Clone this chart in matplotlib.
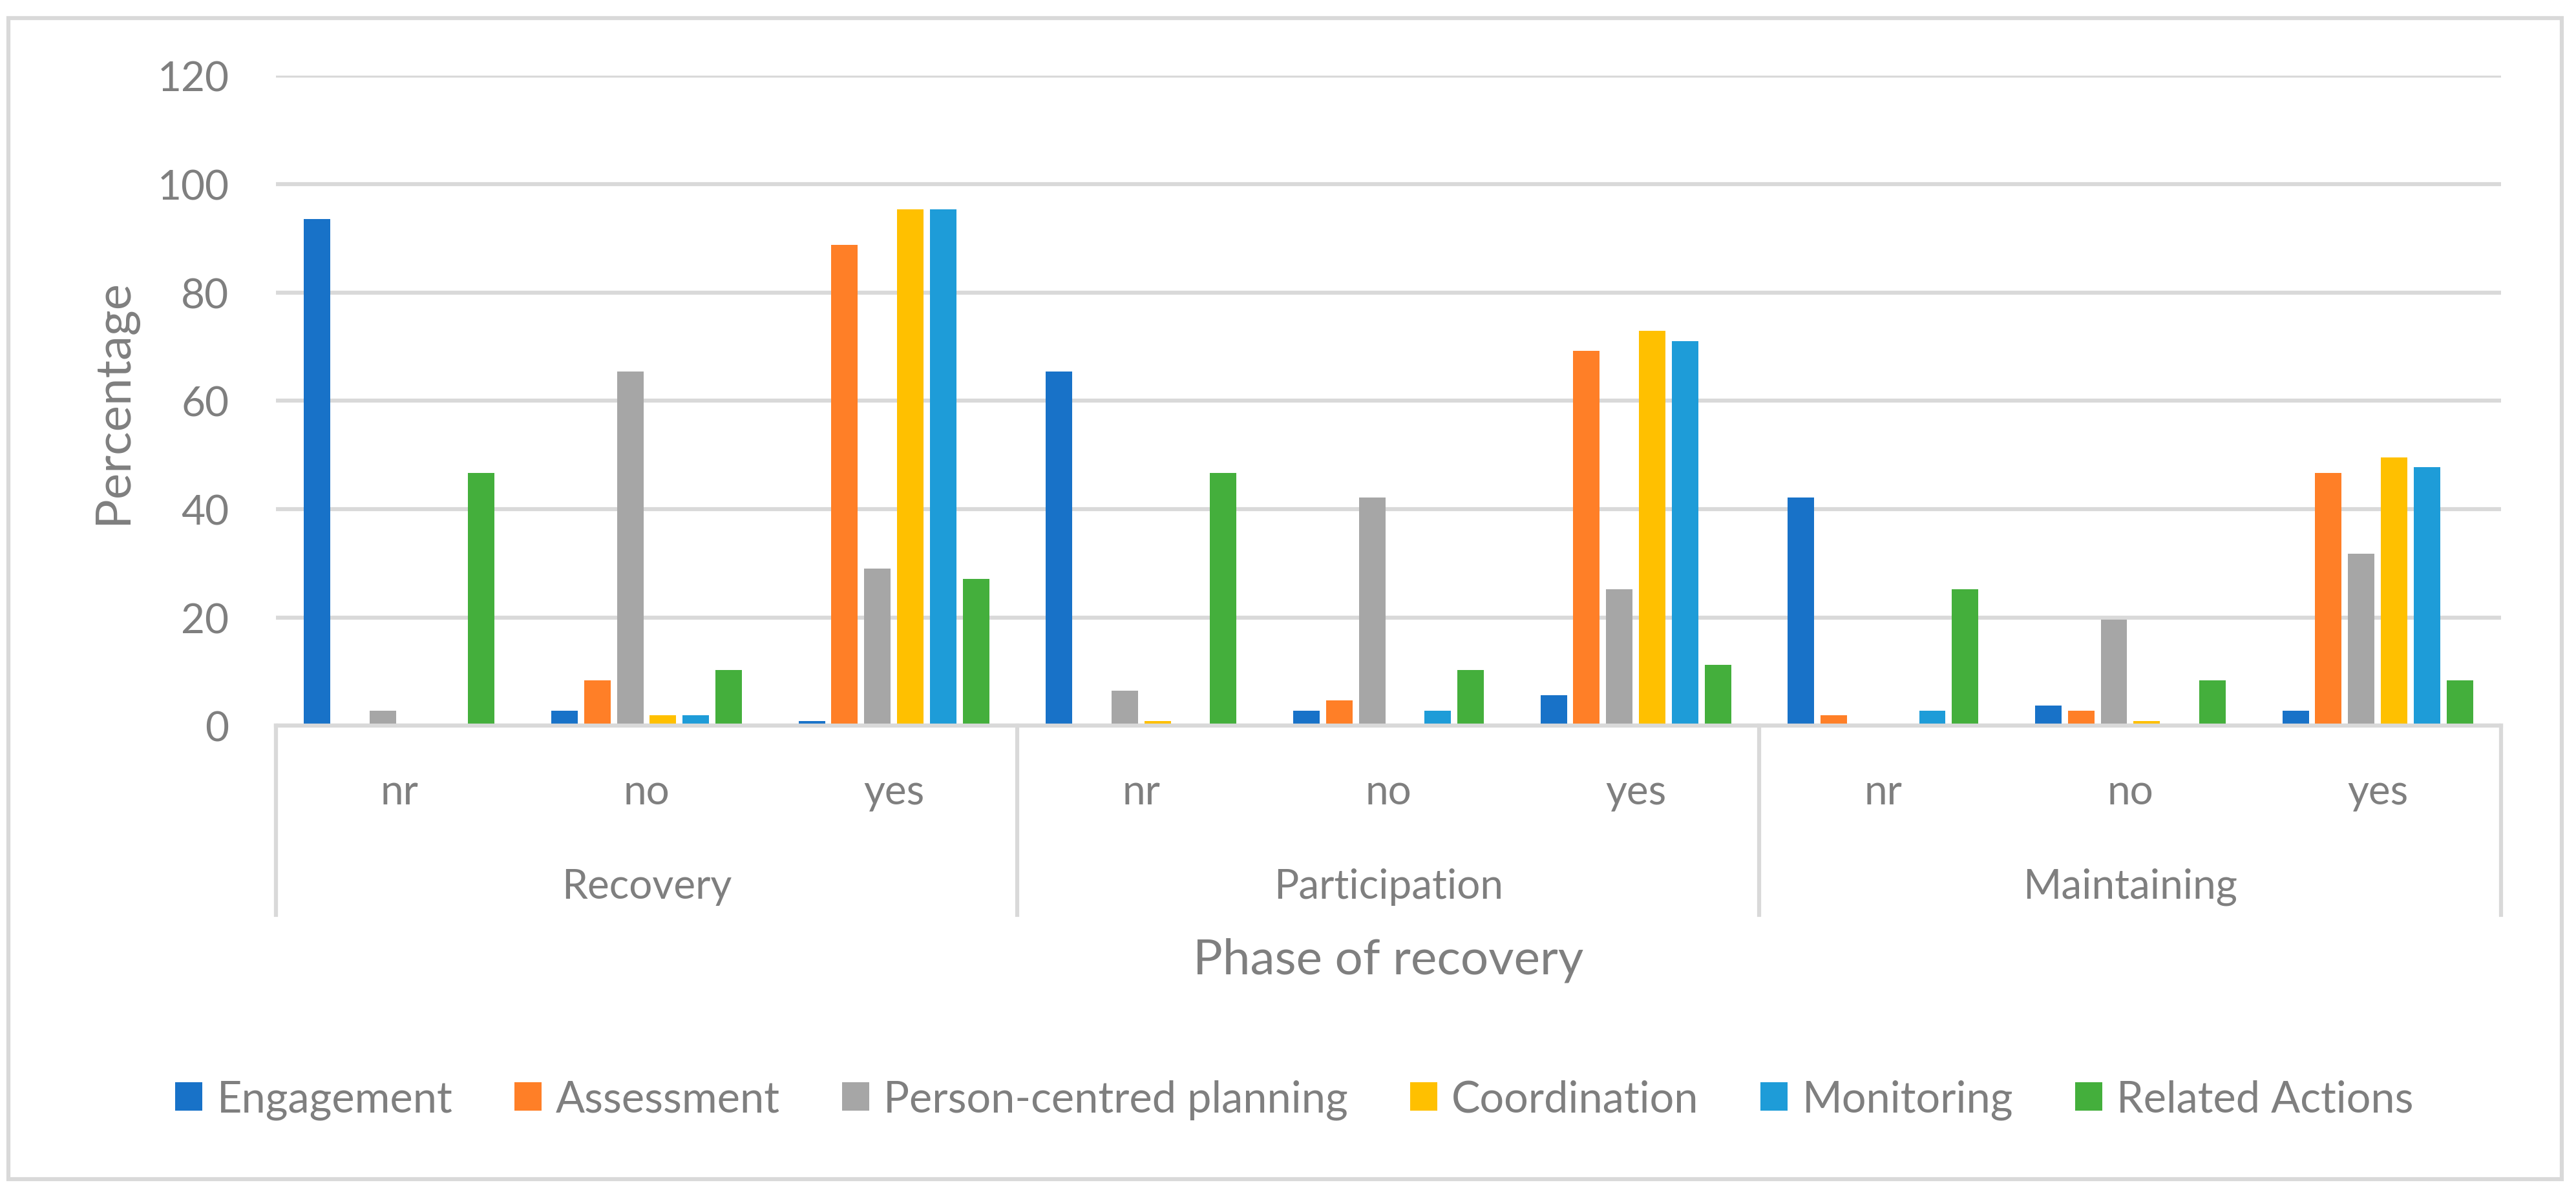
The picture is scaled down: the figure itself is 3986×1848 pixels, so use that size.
import matplotlib
matplotlib.use('Agg')
import matplotlib.pyplot as plt
import numpy as np
from matplotlib.patches import Rectangle

# data
phases = ['Recovery', 'Participation', 'Maintaining']
answers = ['nr', 'no', 'yes']
series = ['Engagement', 'Assessment', 'Person-centred planning',
          'Coordination', 'Monitoring', 'Related Actions']
engagement = [93.5, 2.8, 0.9, 65.4, 2.8, 5.6, 42.1, 3.7, 2.8]
assessment = [0, 8.4, 88.8, 0, 4.7, 69.2, 1.9, 2.8, 46.7]
pcp = [2.8, 65.4, 29.0, 6.5, 42.1, 25.2, 0, 19.6, 31.8]
coordination = [0, 1.9, 95.3, 0.9, 0, 72.9, 0, 0.9, 49.5]
monitoring = [0, 1.9, 95.3, 0, 2.8, 71.0, 2.8, 0, 47.7]
related = [46.7, 10.3, 27.1, 46.7, 10.3, 11.2, 25.2, 8.4, 8.4]
colors = ['#1872C8', '#FF7F27', '#A6A6A6', '#FFC000', '#1E9CD8', '#44AF3C']

plt.rcParams['font.family'] = ['Lato', 'DejaVu Sans']
txt = '#7F7F7F'
grid = '#D9D9D9'
lw = 4.5

fig = plt.figure(figsize=(39.86, 18.49), dpi=100)
ax = fig.add_axes([0.107, 0.392, 0.864, 0.544])

values = [engagement, assessment, pcp, coordination, monitoring, related]
x = np.arange(len(phases) * len(answers))
step = 0.1328
width = 0.107
for i, (name, vals) in enumerate(zip(series, values)):
    ax.bar(x + (i - 2.5) * step, vals, width, color=colors[i], label=name, zorder=3)

ax.set_ylim(0, 120)
ax.set_yticks(range(0, 121, 20))
ax.set_xlim(-0.5, 8.5)
ax.grid(axis='y', color=grid, linewidth=lw, zorder=0)
for s in ['top', 'right', 'left']:
    ax.spines[s].set_visible(False)
ax.spines['bottom'].set_color(grid)
ax.spines['bottom'].set_linewidth(lw)
ax.spines['bottom'].set_zorder(4)
ax.tick_params(axis='y', length=0, pad=52, labelsize=46, labelcolor=txt)
ax.set_xticks([])
fig.text(0.0444, 0.664, 'Percentage', rotation=90, ha='center', va='center',
         fontsize=55, color=txt)

# two-level category axis
tr = ax.get_xaxis_transform()
for xs in [-0.5, 2.5, 5.5, 8.5]:
    ax.plot([xs, xs], [0, -0.291], transform=tr, color=grid, lw=lw, clip_on=False)
for j, xv in enumerate(x):
    ax.text(xv, -0.120, answers[j % 3], transform=tr, ha='center', va='baseline',
            fontsize=46, color=txt)
for k, ph in enumerate(phases):
    ax.text(3 * k + 1, -0.265, ph, transform=tr, ha='center', va='baseline',
            fontsize=46, color=txt)
ax.text(4, -0.381, 'Phase of recovery', transform=tr, ha='center', va='baseline',
        fontsize=55, color=txt)

fig.legend(loc='center', bbox_to_anchor=(0.5025, 0.079), ncol=6, frameon=False,
           fontsize=48, labelcolor=txt, handlelength=0.63, handleheight=0.63,
           handletextpad=0.33, columnspacing=1.44)

fig.patches.append(Rectangle((0.0033, 0.0124), 0.9912, 0.9719, transform=fig.transFigure,
                             fill=False, edgecolor=grid, linewidth=lw))

fig.savefig('out.png', dpi=100, facecolor='white')
